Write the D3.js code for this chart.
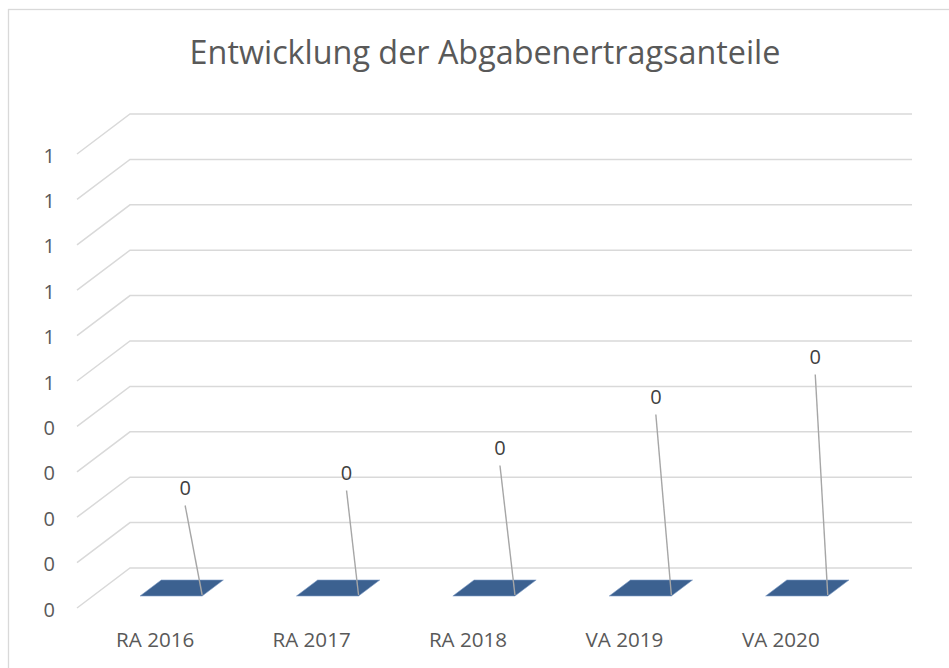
<!DOCTYPE html>
<html>
<head>
<meta charset="utf-8">
<script src="https://cdn.jsdelivr.net/npm/d3@7"></script>
<style>
  html, body { margin: 0; padding: 0; background: #fff; }
  svg { display: block; }
  text { font-family: "Open Sans", "Noto Sans", sans-serif; }
</style>
</head>
<body>
<svg id="chart" width="949" height="668"></svg>
<script>
// ---- data ----
const title = "Entwicklung der Abgabenertragsanteile";
const categories = ["RA 2016", "RA 2017", "RA 2018", "VA 2019", "VA 2020"];
const values = [0, 0, 0, 0, 0];
const dataLabels = ["0", "0", "0", "0", "0"];
const yTickValues = [0, 0.1, 0.2, 0.3, 0.4, 0.5, 0.6, 0.7, 0.8, 0.9, 1.0];
const yTickLabels = ["0", "0", "0", "0", "0", "1", "1", "1", "1", "1", "1"];

// ---- layout ----
const W = 949, H = 668;
const frontLeft = 77, frontRight = 859, frontBottom = 608;
const depthX = 53, depthY = -40;       // front -> back wall offset
const barDepth0 = 0.3, barDepth1 = 0.7; // bar position in depth
// manually placed data labels (offsets from bar's front-right top corner)
const labelOffsets = [[-17, -108], [-12, -123], [-15, -148], [-15.5, -199], [-12.5, -239]];

const svg = d3.select("#chart");

// chart border
svg.append("rect")
  .attr("x", 8.5).attr("y", 9.5)
  .attr("width", W + 20).attr("height", H + 20)
  .attr("fill", "none").attr("stroke", "#d9d9d9").attr("stroke-width", 1.3);

// title (fit width)
const t = svg.append("text")
  .attr("x", 485).attr("y", 64)
  .attr("text-anchor", "middle")
  .attr("fill", "#595959")
  .style("font-size", "32px")
  .text(title);
const tl = t.node().getComputedTextLength();
t.style("font-size", (32 * 591 / tl) + "px");

// scales
const x = d3.scaleBand()
  .domain(categories)
  .range([frontLeft, frontRight])
  .paddingInner(0.603)
  .paddingOuter(0.3015);

const yFront = d3.scaleLinear().domain([0, 1]).range([frontBottom, frontBottom - 454]);
const yAt = (v, d) => yFront(v) + depthY * d;
const xAt = (xx, d) => xx + depthX * d;

// gridlines (side wall diagonal + back wall horizontal)
const backRight = frontRight + depthX;
svg.append("g").selectAll("path")
  .data(yTickValues)
  .join("path")
  .attr("d", v => `M${frontLeft},${yFront(v)}L${xAt(frontLeft, 1)},${yAt(v, 1)}L${backRight},${yAt(v, 1)}`)
  .attr("fill", "none")
  .attr("stroke", "#d9d9d9")
  .attr("stroke-width", 1.5);

// y-axis labels
svg.append("g").selectAll("text")
  .data(yTickValues)
  .join("text")
  .attr("x", 55)
  .attr("y", v => yFront(v) + 1.5)
  .attr("dy", "0.35em")
  .attr("text-anchor", "end")
  .attr("fill", "#595959")
  .style("font-size", "20px")
  .text((v, i) => yTickLabels[i]);

// bars (3D boxes; zero height -> only top face visible)
const bars = svg.append("g");
categories.forEach((c, i) => {
  const v = values[i];
  const x0 = x(c), x1 = x(c) + x.bandwidth();
  const p = (xx, d, val) => [xAt(xx, d), yAt(val, d)];
  const front = [p(x0, barDepth0, 0), p(x1, barDepth0, 0), p(x1, barDepth0, v), p(x0, barDepth0, v)];
  const side = [p(x1, barDepth0, 0), p(x1, barDepth1, 0), p(x1, barDepth1, v), p(x1, barDepth0, v)];
  const top = [p(x0, barDepth0, v), p(x1, barDepth0, v), p(x1, barDepth1, v), p(x0, barDepth1, v)];
  const line = d3.line();
  bars.append("path").attr("d", line(front) + "Z").attr("fill", "#3f659a");
  bars.append("path").attr("d", line(side) + "Z").attr("fill", "#2f4f7a");
  bars.append("path").attr("d", line(top) + "Z")
    .attr("fill", "#3c6190").attr("stroke", "#7d9cc6").attr("stroke-width", 0.6);
});

// data labels with leader lines
const lbl = svg.append("g");
categories.forEach((c, i) => {
  const cx = xAt(x(c) + x.bandwidth(), barDepth0);
  const cy = yAt(values[i], barDepth0);
  const lx = cx + labelOffsets[i][0];
  const ly = cy + labelOffsets[i][1];
  lbl.append("line")
    .attr("x1", lx).attr("y1", ly + 17.5)
    .attr("x2", cx).attr("y2", cy - 1)
    .attr("stroke", "#a6a6a6").attr("stroke-width", 1.4);
  lbl.append("text")
    .attr("x", lx).attr("y", ly)
    .attr("dy", "0.35em")
    .attr("text-anchor", "middle")
    .attr("fill", "#404040")
    .style("font-size", "20px")
    .text(dataLabels[i]);
});

// category labels
svg.append("g").selectAll("text")
  .data(categories)
  .join("text")
  .attr("x", c => x(c) + x.bandwidth() / 2)
  .attr("y", 646.5)
  .attr("text-anchor", "middle")
  .attr("fill", "#595959")
  .style("font-size", "20.6px")
  .text(c => c);
</script>
</body>
</html>
